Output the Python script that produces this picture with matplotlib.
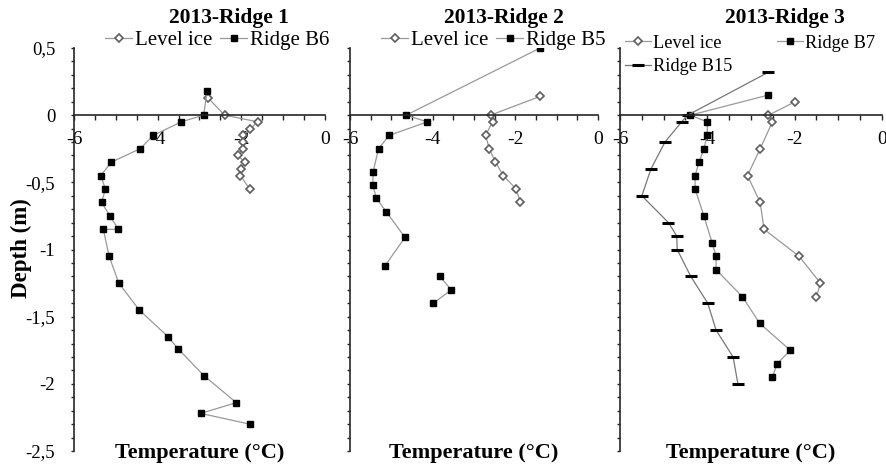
import numpy as np
import matplotlib.pyplot as plt
from matplotlib.ticker import MultipleLocator, FixedLocator

plt.rcParams['font.family'] = ['Liberation Serif', 'DejaVu Serif']

# 2013-Ridge 1
r1_level_temp = [-2.80, -2.40, -1.60, -1.79, -1.95, -1.95, -1.97, -2.08, -1.92, -2.01, -2.02, -1.80]
r1_level_depth = [0.13, 0.0, -0.05, -0.10, -0.15, -0.20, -0.25, -0.30, -0.35, -0.40, -0.45, -0.55]
r1_b6_temp = [-2.82, -2.90, -3.44, -4.10, -4.42, -5.11, -5.36, -5.25, -5.34, -5.14, -4.94, -5.30,
              -5.16, -4.93, -4.44, -3.75, -3.51, -2.89, -2.12, -2.97, -1.80]
r1_b6_depth = [0.18, 0.0, -0.05, -0.15, -0.25, -0.35, -0.45, -0.55, -0.65, -0.75, -0.85, -0.85,
               -1.05, -1.25, -1.45, -1.65, -1.74, -1.94, -2.14, -2.22, -2.30]

# 2013-Ridge 2
r2_level_temp = [-1.40, -2.60, -2.55, -2.72, -2.63, -2.48, -2.29, -1.98, -1.88]
r2_level_depth = [0.14, 0.0, -0.05, -0.15, -0.25, -0.35, -0.45, -0.55, -0.65]
r2_b5_temp = [-1.40, -4.64, -4.13, -5.05, -5.31, -5.44, -5.45, -5.36, -5.12, -4.67, -5.15,
              np.nan, -3.83, -3.55, -3.98]
r2_b5_depth = [0.50, 0.0, -0.05, -0.15, -0.25, -0.42, -0.52, -0.62, -0.72, -0.91, -1.12,
               np.nan, -1.20, -1.30, -1.40]

# 2013-Ridge 3
r3_level_temp = [-1.99, -2.60, -2.51, -2.79, -3.08, -2.79, -2.70, -1.90, -1.41, -1.50]
r3_level_depth = [0.10, 0.0, -0.05, -0.25, -0.45, -0.65, -0.85, -1.05, -1.25, -1.35]
r3_b7_temp = [-2.60, -4.39, -4.00, -4.00, -4.08, -4.19, -4.28, -4.28, -4.08, -3.89, -3.80,
              -3.80, -3.20, -2.80, -2.10, -2.40, -2.51]
r3_b7_depth = [0.15, 0.0, -0.05, -0.15, -0.25, -0.35, -0.45, -0.55, -0.75, -0.95, -1.05,
               -1.15, -1.35, -1.55, -1.75, -1.85, -1.95]
r3_b15_temp = [-2.60, -4.45, -4.59, -4.97, -5.29, -5.50, -4.89, -4.70, -4.69, -4.38, -3.99,
               -3.80, -3.41, -3.30]
r3_b15_depth = [0.32, 0.0, -0.05, -0.20, -0.40, -0.60, -0.80, -0.90, -1.00, -1.20, -1.40,
                -1.60, -1.80, -2.00]

titles = ['2013-Ridge 1', '2013-Ridge 2', '2013-Ridge 3']
y_ticks = [0.5, 0, -0.5, -1, -1.5, -2, -2.5]
y_ticklabels = ['0,5', '0', '-0,5', '-1', '-1,5', '-2', '-2,5']
x_ticks = [-6, -4, -2, 0]
x_ticklabels = ['-6', '-4', '-2', '0']

W, H = 887, 472
fig = plt.figure(figsize=(W / 100, H / 100), dpi=100)

def px_axes(x0, x1, top=48, bottom=451):
    return fig.add_axes([x0 / W, 1 - bottom / H, (x1 - x0) / W, (bottom - top) / H])

axes = [px_axes(74, 325), px_axes(350, 598), px_axes(620, 882)]

line_col = '#999999'
lvl_style = dict(color=line_col, lw=0.9, marker='D', ms=4.0, mfc='white', mec='#5e5e5e', mew=1.2)
sq_style = dict(color=line_col, lw=0.9, marker='s', ms=4.0, mfc='black', mec='black')
dash_style = dict(color='#777777', lw=0.9, marker='_', ms=8, mec='black', mew=2.2)

ax1, ax2, ax3 = axes
h1a, = ax1.plot(r1_level_temp, r1_level_depth, label='Level ice', **lvl_style)
h1b, = ax1.plot(r1_b6_temp, r1_b6_depth, label='Ridge B6', **sq_style)
h2a, = ax2.plot(r2_level_temp, r2_level_depth, label='Level ice', **lvl_style)
h2b, = ax2.plot(r2_b5_temp, r2_b5_depth, label='Ridge B5', **sq_style)
h3a, = ax3.plot(r3_level_temp, r3_level_depth, label='Level ice', **lvl_style)
h3b, = ax3.plot(r3_b7_temp, r3_b7_depth, label='Ridge B7', **sq_style)
h3c, = ax3.plot(r3_b15_temp, r3_b15_depth, label='Ridge B15', **dash_style)

for i, ax in enumerate(axes):
    ax.set_xlim(-6, 0)
    ax.set_ylim(-2.5, 0.5)
    ax.patch.set_visible(False)
    for s in ['top', 'right']:
        ax.spines[s].set_visible(False)
    ax.spines['bottom'].set_position(('data', 0))
    ax.spines['left'].set_position(('data', -6))
    for s in ['bottom', 'left']:
        ax.spines[s].set_color('#262626')
        ax.spines[s].set_linewidth(1.2)
    ax.xaxis.set_major_locator(FixedLocator(x_ticks))
    ax.set_xticklabels(x_ticklabels)
    ax.xaxis.set_minor_locator(MultipleLocator(0.5))
    ax.yaxis.set_major_locator(FixedLocator(y_ticks))
    ax.yaxis.set_minor_locator(MultipleLocator(0.1))
    ax.tick_params(axis='x', which='both', direction='out', length=3.6, width=1.0,
                   color='#262626', labelsize=14, pad=8)
    ax.tick_params(axis='y', which='both', direction='out', length=2.5, width=1.0,
                   color='#262626', labelsize=13.5, pad=11)
    if i == 0:
        ax.set_yticklabels(y_ticklabels)
    else:
        ax.set_yticklabels([])
    for lab in ax.get_xticklabels():
        lab.set_zorder(0)

# titles and axis labels
title_x = [229, 504, 785]
for tx, t in zip(title_x, titles):
    fig.text(tx / W, 1 - 18 / H, t, ha='center', va='center', fontsize=15.5, fontweight='bold')
for ax in axes:
    pos = ax.get_position()
    fig.text(pos.x0 + pos.width / 2, 1 - 453 / H, 'Temperature (°C)', ha='center', va='center',
             fontsize=16, fontweight='bold')
fig.text(21 / W, 1 - 248 / H, 'Depth (m)', rotation=90, ha='center', va='center',
         fontsize=16.5, fontweight='bold')

leg_kw = dict(frameon=False, handletextpad=0.12, borderpad=0, borderaxespad=0,
              loc='center left')
fig.legend(handles=[h1a, h1b], ncol=2, columnspacing=0.4, fontsize=15, handlelength=1.3,
           bbox_to_anchor=(105 / W, 1 - 40 / H), **leg_kw)
fig.legend(handles=[h2a, h2b], ncol=2, columnspacing=0.4, fontsize=15, handlelength=1.3,
           bbox_to_anchor=(381 / W, 1 - 40 / H), **leg_kw)
fig.legend(handles=[h3a, h3c, h3b], ncol=2, columnspacing=2.45, fontsize=13.2,
           handlelength=1.4, labelspacing=0.35,
           bbox_to_anchor=(625 / W, 1 - 55 / H), **leg_kw)

fig.savefig('out.png', dpi=100)
